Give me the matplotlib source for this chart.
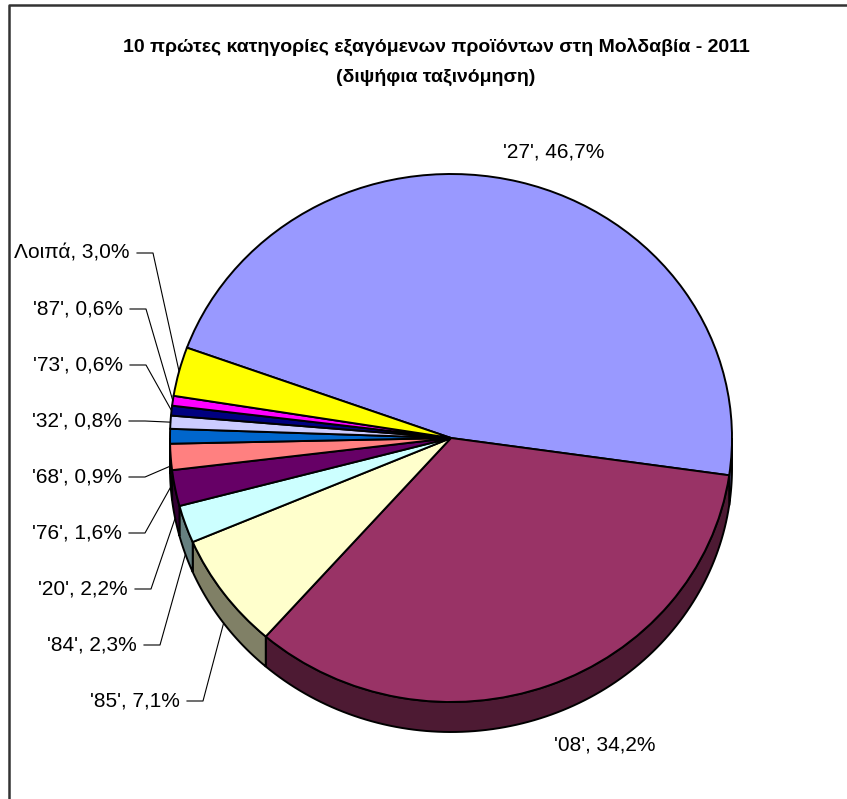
import numpy as np
import matplotlib
matplotlib.use('Agg')
import matplotlib.pyplot as plt
from matplotlib.patches import Polygon
from matplotlib.colors import to_rgb

# data
codes = ["'27'", "'08'", "'85'", "'84'", "'20'", "'76'", "'68'", "'32'", "'73'", "'87'", "Λοιπά"]
shares = [46.7, 34.2, 7.1, 2.3, 2.2, 1.6, 0.9, 0.8, 0.6, 0.6, 3.0]
colors = ['#9999FF', '#993366', '#FFFFCC', '#CCFFFF', '#660066', '#FF8080',
          '#0066CC', '#CCCCFF', '#000080', '#FF00FF', '#FFFF00']
title = "10 πρώτες κατηγορίες εξαγόμενων προϊόντων στη Μολδαβία - 2011\n(διψήφια ταξινόμηση)"

# layout (pixels)
W, H = 847, 799
CX, CY = 451, 438
RX, RY = 281, 264
DEPTH = 30
# label anchor: (x, y, ha); left labels get a leader line
label_pos = [(554, 152, 'center'), (605, 745, 'center'), (180, 701, 'right'),
             (137, 645, 'right'), (128, 589, 'right'), (122, 533, 'right'),
             (122, 477, 'right'), (122, 421, 'right'), (123, 365, 'right'),
             (123, 309, 'right'), (130, 253, 'right')]

FONT = ['Liberation Sans', 'DejaVu Sans']

def dx(px):
    return (px - CX) / RX

def dy(py):
    return (CY - py) / RY

fig = plt.figure(figsize=(W / 100, H / 100), dpi=100)
ax = fig.add_axes([0, 0, 1, 1])
wedges, _ = ax.pie(shares, colors=colors, startangle=160, counterclock=False,
                   wedgeprops=dict(edgecolor='black', linewidth=1.4, zorder=3))
ax.set_xlim(dx(0), dx(W))
ax.set_ylim(dy(H), dy(0))
ax.set_aspect('auto')
ax.axis('off')

d = DEPTH / RY
# side of the tilted pie (front half only)
for w, c in zip(wedges, colors):
    dark = tuple(v * 0.5 for v in to_rgb(c))
    for k in (-1, 0, 1):
        a = max(w.theta1, 180 + 360 * k)
        b = min(w.theta2, 360 + 360 * k)
        if a < b:
            t = np.radians(np.linspace(a, b, 100))
            top = np.column_stack([np.cos(t), np.sin(t)])
            bot = np.column_stack([np.cos(t), np.sin(t) - d])[::-1]
            ax.add_patch(Polygon(np.vstack([top, bot]), closed=True, facecolor=dark,
                                 edgecolor='black', linewidth=1.4, zorder=1))

# labels
for w, code, share, (lx, ly, ha) in zip(wedges, codes, shares, label_pos):
    txt = f"{code}, {share:.1f}%".replace('.', ',')
    ax.text(dx(lx), dy(ly), txt, ha=ha, va='center', fontsize=15, family=FONT,
            color='black', zorder=5)
    if ha == 'right':
        mid = np.radians((w.theta1 + w.theta2) / 2)
        ex, ey = np.cos(mid), np.sin(mid)
        if ey < 0.03:
            ey -= d
        xs = [dx(lx + 7), dx(lx + 23), ex]
        ys = [dy(ly), dy(ly), ey]
        ax.plot(xs, ys, color='black', linewidth=0.8, zorder=4)

fig.text(436 / W, 1 - 62 / H, title, ha='center', va='center', fontsize=14,
         fontweight='bold', family=FONT, linespacing=2.0)

# chart frame
ax.plot([dx(9), dx(9), dx(W + 5)], [dy(H + 5), dy(5), dy(5)], color='#333333',
        linewidth=1.8, zorder=6, clip_on=False)

fig.savefig('out.png', dpi=100)
